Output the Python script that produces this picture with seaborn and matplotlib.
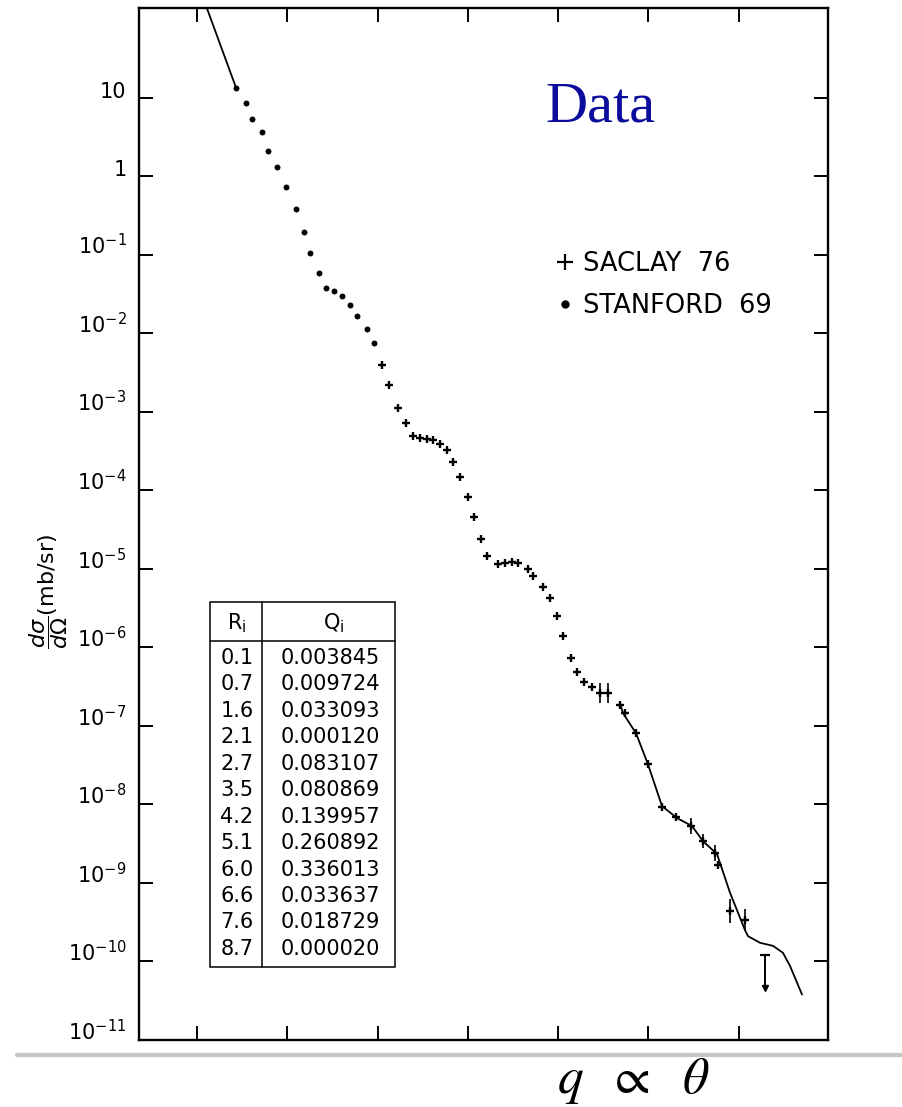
import numpy as np
import pandas as pd
import matplotlib
matplotlib.use("Agg")
import matplotlib.pyplot as plt
import seaborn as sns
from matplotlib.lines import Line2D
from matplotlib.patches import Rectangle

# ---------------- data ----------------
stanford_q = [1.432, 1.543, 1.609, 1.720, 1.786, 1.886, 1.986, 2.096, 2.185,
              2.251, 2.351, 2.429, 2.517, 2.606, 2.694, 2.772, 2.883, 2.960]
stanford_xs = [13.4, 8.4, 5.4, 3.6, 2.1, 1.29, 0.72, 0.38, 0.193,
               0.104, 0.058, 0.0374, 0.0343, 0.0296, 0.0228, 0.0165, 0.0113, 0.0075]

saclay_q = [3.049, 3.126, 3.226, 3.314, 3.392, 3.470, 3.547, 3.614, 3.691, 3.769,
            3.835, 3.913, 4.001, 4.068, 4.145, 4.211, 4.333, 4.411, 4.488, 4.555,
            4.666, 4.721, 4.832, 4.909, 4.987, 5.053, 5.142, 5.208, 5.286, 5.374,
            5.463, 5.552, 5.684, 5.740, 5.862, 5.994, 6.150, 6.305, 6.471, 6.604,
            6.736, 6.770, 6.903, 7.069]
saclay_xs = [3.9e-3, 2.2e-3, 1.12e-3, 7.2e-4, 4.9e-4, 4.6e-4, 4.5e-4, 4.3e-4, 3.9e-4, 3.3e-4,
             2.3e-4, 1.49e-4, 8.3e-5, 4.6e-5, 2.4e-5, 1.47e-5, 1.16e-5, 1.2e-5, 1.23e-5, 1.2e-5,
             1.0e-5, 8.2e-6, 5.9e-6, 4.2e-6, 2.5e-6, 1.4e-6, 7.4e-7, 4.9e-7, 3.6e-7, 3.1e-7,
             2.6e-7, 2.6e-7, 1.83e-7, 1.45e-7, 8.1e-8, 3.25e-8, 9.2e-9, 6.9e-9, 5.3e-9, 3.4e-9,
             2.4e-9, 1.7e-9, 4.4e-10, 3.4e-10]

err_q = [5.463, 5.552, 6.471, 6.604, 6.736, 6.903, 7.069]
err_xs = [2.6e-7, 2.6e-7, 5.3e-9, 3.4e-9, 2.4e-9, 4.4e-10, 3.4e-10]
err_lo = [1.94e-7, 1.94e-7, 4.2e-9, 2.75e-9, 1.9e-9, 3.1e-10, 2.5e-10]
err_hi = [3.5e-7, 3.5e-7, 6.7e-9, 4.2e-9, 3.0e-9, 6.2e-10, 4.6e-10]

limit_q = [7.29]
limit_top = [1.2e-10]
limit_bottom = [4.6e-11]

fit_hi_q = [1.055, 1.432]
fit_hi_xs = [204.0, 13.4]
fit_lo_q = [5.684, 5.718, 5.862, 5.994, 6.150, 6.316, 6.482, 6.604, 6.759, 6.903,
            7.069, 7.102, 7.235, 7.379, 7.489, 7.567, 7.633, 7.700]
fit_lo_xs = [1.94e-7, 1.45e-7, 8.05e-8, 3.25e-8, 9.5e-9, 6.7e-9, 5.3e-9, 3.4e-9, 2.33e-9, 7.5e-10,
             2.5e-10, 2.1e-10, 1.73e-10, 1.58e-10, 1.29e-10, 8.8e-11, 5.8e-11, 3.8e-11]

table_R = ["0.1", "0.7", "1.6", "2.1", "2.7", "3.5", "4.2", "5.1", "6.0", "6.6", "7.6", "8.7"]
table_Q = ["0.003845", "0.009724", "0.033093", "0.000120", "0.083107", "0.080869",
           "0.139957", "0.260892", "0.336013", "0.033637", "0.018729", "0.000020"]

ytick_vals = [1e1, 1e0, 1e-1, 1e-2, 1e-3, 1e-4, 1e-5, 1e-6, 1e-7, 1e-8, 1e-9, 1e-10, 1e-11]
ytick_labels = ["10", "1", r"$10^{-1}$", r"$10^{-2}$", r"$10^{-3}$", r"$10^{-4}$", r"$10^{-5}$",
                r"$10^{-6}$", r"$10^{-7}$", r"$10^{-8}$", r"$10^{-9}$", r"$10^{-10}$", r"$10^{-11}$"]
xtick_vals = [1, 2, 3, 4, 5, 6, 7]

legend_labels = ["SACLAY  76", "STANFORD  69"]

# ---------------- figure ----------------
sns.set_style("ticks")
plt.rcParams["font.family"] = ["DejaVu Sans"]
plt.rcParams["text.color"] = "black"
plt.rcParams["axes.labelcolor"] = "black"
plt.rcParams["xtick.color"] = "black"
plt.rcParams["ytick.color"] = "black"

W, H = 903, 1107
fig = plt.figure(figsize=(W / 100, H / 100), dpi=100)
fig.patch.set_facecolor("white")


def fx(px):
    return px / W


def fy(py):
    return 1 - py / H


ax = fig.add_axes([fx(139), fy(1040), (828 - 139) / W, (1040 - 8) / H])
ax.set_yscale("log")
ax.set_xlim(0.358, 7.988)
ax.set_ylim(1e-11, 10 ** 2.14)

# theory curve (two visible pieces)
sns.lineplot(x=fit_hi_q, y=fit_hi_xs, ax=ax, color="black", lw=1.3, sort=False, estimator=None)
sns.lineplot(x=fit_lo_q, y=fit_lo_xs, ax=ax, color="black", lw=1.3, sort=False, estimator=None)

# data points
sns.scatterplot(x=stanford_q, y=stanford_xs, ax=ax, marker="o", s=14, color="black",
                edgecolor="black", linewidth=0.5, zorder=3)
sns.scatterplot(x=saclay_q, y=saclay_xs, ax=ax, marker="+", s=28, color="black",
                linewidth=1.7, zorder=3)

# error bars
yerr = [np.array(err_xs) - np.array(err_lo), np.array(err_hi) - np.array(err_xs)]
ax.errorbar(err_q, err_xs, yerr=yerr, fmt="none", ecolor="black", elinewidth=1.2, capsize=0)

# upper limit point
ax.vlines(limit_q, limit_bottom, limit_top, color="black", lw=1.4)
ax.plot(limit_q, limit_top, marker="_", ms=7, mew=1.6, color="black", ls="none")
ax.plot(limit_q, limit_bottom, marker="v", ms=4, color="black", ls="none")

# axes styling
ax.set_yticks(ytick_vals, labels=ytick_labels)
ax.yaxis.set_minor_locator(matplotlib.ticker.NullLocator())
ax.set_xticks(xtick_vals)
ax.xaxis.set_minor_locator(matplotlib.ticker.NullLocator())
ax.tick_params(axis="both", which="major", direction="in", length=10, width=1.4,
               top=True, right=True, labelbottom=False, labeltop=False, labelright=False,
               color="black", labelcolor="black")
ax.tick_params(axis="y", labelsize=15, pad=9)
for lab in ax.get_yticklabels():
    lab.set_va("baseline")
for sp in ax.spines.values():
    sp.set_linewidth(1.7)
    sp.set_color("black")
ax.set_xlabel("")
ax.set_ylabel(r"$\dfrac{d\sigma}{d\Omega}$(mb/sr)", fontsize=16, color="black")
ax.yaxis.set_label_coords(-0.10, 0.435)

# legend
handles = [Line2D([], [], marker="+", ls="none", color="black", ms=11, mew=1.6),
           Line2D([], [], marker="o", ls="none", color="black", ms=5)]
leg = ax.legend(handles, legend_labels, loc="upper left", bbox_to_anchor=(fx(555), fy(251)),
                bbox_transform=fig.transFigure, frameon=False, fontsize=18.5,
                handlelength=0.8, handletextpad=0.3, labelspacing=0.62,
                borderpad=0, borderaxespad=0)
for t in leg.get_texts():
    t.set_color("black")

# table of coefficients
tx0, tx1, tdiv = 210, 395, 262
ty0, ty1, thead = 602, 967, 641
fig.add_artist(Rectangle((fx(tx0), fy(ty1)), (tx1 - tx0) / W, (ty1 - ty0) / H,
                         transform=fig.transFigure, fill=True, facecolor="white",
                         edgecolor="black", lw=1.1, zorder=5))
fig.add_artist(Line2D([fx(tdiv), fx(tdiv)], [fy(ty0), fy(ty1)], transform=fig.transFigure,
                      color="black", lw=1.1, zorder=6))
fig.add_artist(Line2D([fx(tx0), fx(tx1)], [fy(thead), fy(thead)], transform=fig.transFigure,
                      color="black", lw=1.1, zorder=6))
fig.text(fx(237), fy(623), r"R$_\mathrm{i}$", ha="center", va="center", fontsize=15, zorder=7)
fig.text(fx(334), fy(623), r"Q$_\mathrm{i}$", ha="center", va="center", fontsize=15, zorder=7)
for i, (r, q) in enumerate(zip(table_R, table_Q)):
    yy = 658 + i * 26.45
    fig.text(fx(237), fy(yy), r, ha="center", va="center", fontsize=15, zorder=7)
    fig.text(fx(330), fy(yy), q, ha="center", va="center", fontsize=15, zorder=7)

# annotations
fig.text(fx(600), fy(121), "Data", ha="center", va="baseline", fontsize=42,
         family="Liberation Serif", color="#0b0b9c")
fig.add_artist(Line2D([fx(17), 1.0], [fy(1055), fy(1055)], transform=fig.transFigure,
                      color="#c6c6c6", lw=3))
fig.text(fx(633), fy(1093), r"$q\ \ \propto\ \ \theta$", ha="center", va="baseline",
         fontsize=37, math_fontfamily="stix")

fig.savefig("out.png", dpi=100)
